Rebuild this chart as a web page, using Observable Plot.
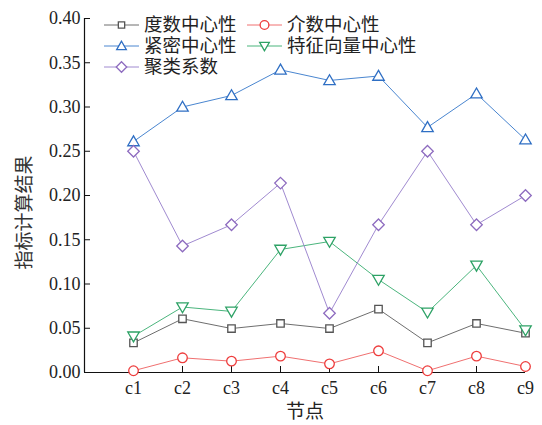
<!DOCTYPE html>
<html><head><meta charset="utf-8">
<script src="https://cdn.jsdelivr.net/npm/d3@7"></script>
<script src="https://cdn.jsdelivr.net/npm/@observablehq/plot@0.6"></script>
<style>
body{margin:0;background:#fff;}
#wrap{position:relative;width:542px;height:425px;}
#legend{position:absolute;left:0;top:0;width:542px;height:90px;pointer-events:none;}
#chart g[aria-label$="tick label"], #chart g[aria-label$="tick label"] text{font-family:"Liberation Serif","Times New Roman",serif !important;}
</style>
</head><body>
<div id="wrap"><div id="chart"></div><svg id="legend" width="542" height="90"></svg></div>
<script>
const nodes = ["c1","c2","c3","c4","c5","c6","c7","c8","c9"];
const seriesNames = ["度数中心性","介数中心性","紧密中心性","特征向量中心性","聚类系数"];
const degree      = [0.0335,0.0607,0.0497,0.0554,0.0497,0.0716,0.0335,0.0554,0.0444];
const betweenness = [0.002,0.0166,0.0128,0.0185,0.0098,0.0245,0.002,0.0185,0.0068];
const closeness   = [0.261,0.300,0.313,0.342,0.330,0.335,0.277,0.315,0.263];
const eigenvector = [0.041,0.074,0.069,0.139,0.148,0.105,0.068,0.121,0.048];
const clustering  = [0.250,0.143,0.167,0.214,0.067,0.167,0.250,0.167,0.200];
const yTicks = [0,0.05,0.10,0.15,0.20,0.25,0.30,0.35,0.40];
const xTitle = "节点";
const yTitle = "指标计算结果";

const triDown = {draw(ctx, size){ const r = Math.sqrt(size/3); const h=r*Math.sqrt(3)/2;
  ctx.moveTo(0, h*1.15); ctx.lineTo(-r, -h*0.85); ctx.lineTo(r, -h*0.85); ctx.closePath(); }};
const triUp = {draw(ctx, size){ const r = Math.sqrt(size/3); const h=r*Math.sqrt(3)/2;
  ctx.moveTo(0, -h*1.15); ctx.lineTo(-r, h*0.85); ctx.lineTo(r, h*0.85); ctx.closePath(); }};

const styles = [
  {name: seriesNames[0], values: degree,      line:"#6e6e6e", mark:"#555555", symbol:"square",  r:4.2},
  {name: seriesNames[1], values: betweenness, line:"#f07070", mark:"#ee3c3c", symbol:"circle",  r:4.8},
  {name: seriesNames[2], values: closeness,   line:"#4a86d0", mark:"#2f6fc4", symbol:triUp,     r:5.6},
  {name: seriesNames[3], values: eigenvector, line:"#4bb57d", mark:"#2ea266", symbol:triDown,   r:5.6},
  {name: seriesNames[4], values: clustering,  line:"#a08ad0", mark:"#8d6bbf", symbol:"diamond2",r:5.2}
];

const marks = [];
for (const s of styles) {
  const data = nodes.map((n,i)=>({x:i+1, y:s.values[i]}));
  marks.push(Plot.line(data,{x:"x",y:"y",stroke:s.line,strokeWidth:1}));
}
for (const s of styles) {
  const data = nodes.map((n,i)=>({x:i+1, y:s.values[i]}));
  marks.push(Plot.dot(data,{x:"x",y:"y",symbol:()=>s.symbol,r:s.r,stroke:s.mark,fill:"white",strokeWidth:1.3}));
}

const serif = "Liberation Serif";
const plot = Plot.plot({
  width:542, height:425,
  marginLeft:84, marginTop:18, marginBottom:53, marginRight:17,
  style:{fontSize:"18px", color:"#222", background:"white"},
  x:{domain:[0,9], label:null},
  y:{domain:[0,0.4], label:null},
  symbol:{type:"identity"},
  marks:[
    Plot.axisX(d3.range(1,10),{tickSize:-6, tickPadding:15, tickFormat:d=>nodes[d-1], fontSize:18, fontFamily:serif, stroke:"#111", fill:"#222"}),
    Plot.axisY(yTicks,{tickSize:-6, tickPadding:10, tickFormat:d3.format(".2f"), fontSize:18, fontFamily:serif, stroke:"#111", fill:"#222"}),
    Plot.ruleX([0],{stroke:"#111",strokeWidth:1.2}),
    Plot.ruleY([0],{stroke:"#111",strokeWidth:1.2}),
    ...marks,
    Plot.text([xTitle],{frameAnchor:"bottom", dy:45, fontFamily:"Noto Sans CJK SC", fontSize:19, fill:"#222"}),
    Plot.text([yTitle],{frameAnchor:"left", textAnchor:"middle", dx:-60, dy:17, rotate:-90, fontFamily:"Noto Sans CJK SC", fontSize:19, fill:"#333"})
  ]
});
document.getElementById("chart").appendChild(plot);
d3.select(plot).selectAll('g[aria-label$="tick label"]').attr("font-family","Liberation Serif").selectAll("text").attr("font-family","Liberation Serif");

// legend
const lg = d3.select("#legend");
const legendPos = [[104,25],[247,25],[104,46],[247,46],[104,67]];
const sym = {square:d3.symbolSquare, circle:d3.symbolCircle, diamond2:d3.symbolDiamond2};
styles.forEach((s,i)=>{
  const [x0,y0] = legendPos[i];
  lg.append("line").attr("x1",x0).attr("x2",x0+35).attr("y1",y0).attr("y2",y0).attr("stroke",s.line).attr("stroke-width",1);
  const t = typeof s.symbol === "string" ? sym[s.symbol] : s.symbol;
  const size = s.symbol==="square" ? 40 : s.symbol==="circle" ? 60 : 70;
  lg.append("path").attr("d",d3.symbol(t, size)()).attr("transform",`translate(${x0+17.5},${y0})`)
    .attr("fill","white").attr("stroke",s.mark).attr("stroke-width",1.3);
  lg.append("text").attr("x",x0+40).attr("y",y0).attr("dy","0.35em").attr("font-family","Noto Sans CJK SC")
    .attr("font-size",18.5).attr("fill","#222").text(s.name);
});
</script>
</body></html>
